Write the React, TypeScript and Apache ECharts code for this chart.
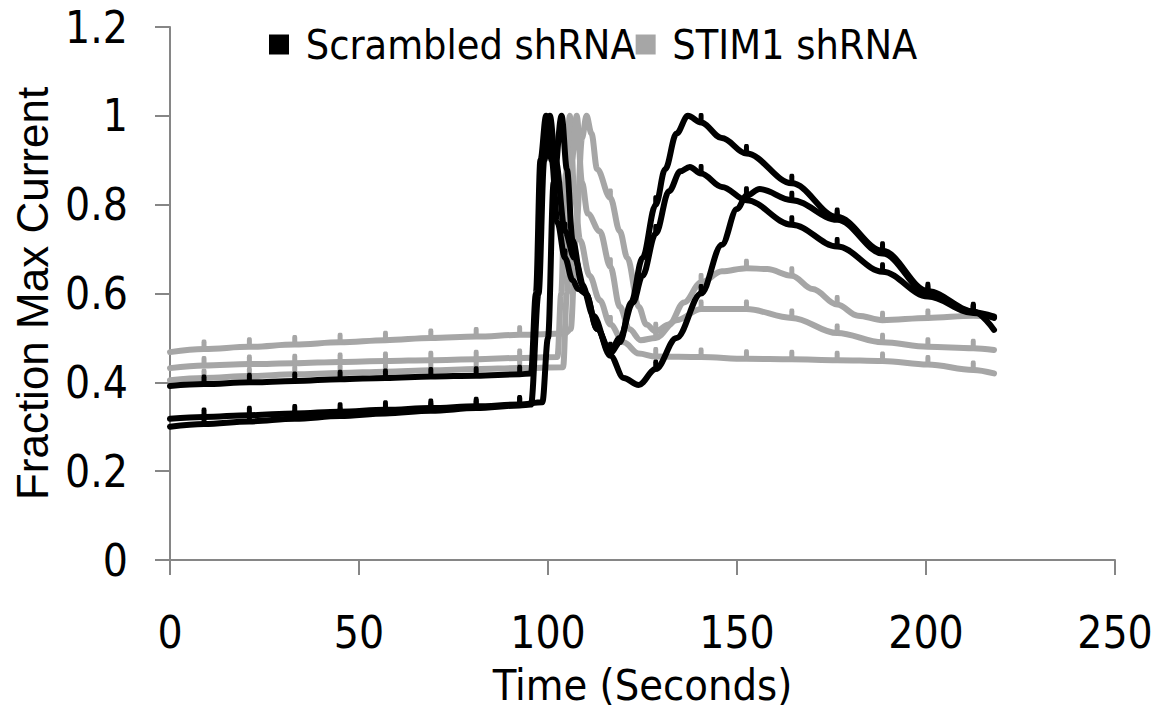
import React, { useEffect, useRef } from "react";
import * as echarts from "echarts";

// Time (s) at which the little Excel markers sit on every trace
const MARKER_TIMES = [9, 21, 33, 45, 57, 69, 81, 92.5, 104.5, 116.5, 128.5, 140.5, 152.5, 164.5, 176.5, 188.5, 200.5, 212.5];

const SCRAMBLED = "Scrambled shRNA";
const STIM1 = "STIM1 shRNA";

// Scrambled shRNA traces: [time, fraction]
const scrambled1: [number, number][] = [
  [0, 0.392], [9, 0.396], [21, 0.4], [33, 0.403], [45, 0.407], [57, 0.41], [69, 0.413], [81, 0.415], [92.5, 0.418],
  [95.5, 0.42], [96.8, 0.6], [98, 0.9], [99.5, 1.0], [101, 0.9], [102.5, 0.76], [104.5, 0.68], [106.5, 0.63], [108, 0.61],
  [110, 0.6], [113, 0.52], [116.5, 0.465], [119, 0.49], [122, 0.58], [125, 0.68], [128.5, 0.8], [131, 0.88], [134, 0.96],
  [137, 1.0], [140.5, 0.985], [146, 0.95], [152.5, 0.915], [164.5, 0.848], [176.5, 0.772], [188.5, 0.696], [200.5, 0.605],
  [212.5, 0.56], [218, 0.518],
];
const scrambled2: [number, number][] = [
  [0, 0.318], [9, 0.322], [21, 0.326], [33, 0.33], [45, 0.334], [57, 0.338], [69, 0.342], [81, 0.346], [92.5, 0.35],
  [98.5, 0.355], [100, 0.5], [101.5, 0.85], [103.6, 1.0], [105, 0.88], [106.5, 0.72], [109, 0.62], [112, 0.55], [116.5, 0.46],
  [120, 0.41], [124, 0.394], [128.5, 0.43], [134, 0.5], [140.5, 0.6], [146, 0.71], [150, 0.79], [152.5, 0.82], [156, 0.835],
  [164.5, 0.81], [176.5, 0.766], [188.5, 0.69], [200.5, 0.6], [212.5, 0.558], [218, 0.548],
];
const scrambled3: [number, number][] = [
  [0, 0.3], [9, 0.306], [21, 0.312], [33, 0.318], [45, 0.324], [57, 0.33], [69, 0.336], [81, 0.342], [92.5, 0.348],
  [95.5, 0.35], [97.5, 0.6], [99, 0.9], [100.5, 1.0], [102, 0.9], [104.5, 0.74], [107, 0.68], [110, 0.6], [113, 0.52],
  [116.5, 0.47], [119, 0.5], [122.5, 0.58], [125, 0.64], [128.5, 0.735], [132, 0.83], [135, 0.875], [137.5, 0.885],
  [140.5, 0.87], [146, 0.84], [152.5, 0.81], [164.5, 0.755], [176.5, 0.706], [188.5, 0.649], [200.5, 0.593], [212.5, 0.556],
  [218, 0.545],
];

// STIM1 shRNA traces: [time, fraction]
const stim1a: [number, number][] = [
  [0, 0.468], [9, 0.475], [21, 0.48], [33, 0.485], [45, 0.49], [57, 0.495], [69, 0.5], [81, 0.503], [92.5, 0.507],
  [104.5, 0.51], [106, 0.52], [107.5, 0.75], [109, 0.95], [110.2, 1.0], [111.5, 0.96], [113, 0.88], [116.5, 0.815],
  [119, 0.74], [121, 0.68], [124, 0.57], [126, 0.53], [128.5, 0.515], [132, 0.53], [136, 0.58], [140.5, 0.625], [146, 0.65],
  [152.5, 0.657], [158, 0.655], [164.5, 0.64], [170, 0.61], [176.5, 0.575], [182, 0.55], [188.5, 0.54], [200.5, 0.545],
  [212.5, 0.55], [218, 0.548],
];
const stim1b: [number, number][] = [
  [0, 0.432], [9, 0.438], [21, 0.441], [33, 0.443], [45, 0.446], [57, 0.448], [69, 0.45], [81, 0.452], [92.5, 0.455],
  [102.5, 0.457], [103.5, 0.6], [104.5, 0.85], [105.8, 1.0], [107, 0.82], [108.5, 0.72], [111, 0.64], [113.7, 0.585],
  [116.5, 0.53], [120, 0.49], [124, 0.465], [128.5, 0.458], [140.5, 0.457], [152.5, 0.453], [164.5, 0.452], [176.5, 0.45],
  [188.5, 0.448], [200.5, 0.44], [212.5, 0.428], [218, 0.42],
];
const stim1c: [number, number][] = [
  [0, 0.405], [9, 0.41], [21, 0.414], [33, 0.418], [45, 0.421], [57, 0.424], [69, 0.427], [81, 0.43], [92.5, 0.432],
  [104, 0.434], [105, 0.6], [106.3, 0.9], [107.6, 1.0], [109, 0.85], [110.5, 0.78], [113.7, 0.74], [116.5, 0.66], [119, 0.57],
  [121.5, 0.52], [124.5, 0.495], [128.5, 0.5], [134, 0.54], [140.5, 0.565], [152.5, 0.565], [164.5, 0.545], [176.5, 0.511],
  [188.5, 0.49], [200.5, 0.48], [212.5, 0.477], [218, 0.473],
];

const X_TICKS = [0, 50, 100, 150, 200, 250];
const Y_TICKS = [0, 0.2, 0.4, 0.6, 0.8, 1, 1.2];

const BLACK = "#000000";
const GRAY = "#a6a6a6";
const AXIS = "#868686";
const TICK_FONT = "'Liberation Sans Narrow', 'DejaVu Sans Condensed', 'Open Sans', sans-serif";
const TITLE_FONT = "'Liberation Sans', Arial, sans-serif";

function makeSeries(name: string, color: string, pts: [number, number][]) {
  return {
    type: "line",
    name,
    smooth: 0.35,
    smoothMonotone: "x",
    showSymbol: true,
    showAllSymbol: true,
    symbol: "roundRect",
    symbolSize: (v: number[]) => (MARKER_TIMES.includes(v[0]) ? [5, 11] : 0),
    symbolOffset: [0, -4],
    lineStyle: { color, width: 6, cap: "round", join: "round" },
    itemStyle: { color },
    emphasis: { disabled: true },
    z: color === BLACK ? 3 : 2,
    data: pts.map((p) => [p[0], p[1]]),
  };
}

export default function App() {
  const ref = useRef<HTMLDivElement>(null);
  useEffect(() => {
    if (!ref.current) return;
    const chart = echarts.init(ref.current, null, { renderer: "svg" });
    chart.setOption({
      animation: false,
      backgroundColor: "#ffffff",
      grid: { left: 170, right: 46, top: 27, bottom: 153, containLabel: false },
      legend: {
        left: 264,
        top: 19,
        itemGap: 0,
        itemWidth: 20,
        itemHeight: 20,
        icon: "rect",
        data: [SCRAMBLED, STIM1],
        formatter: (n: string) => " " + n,
        textStyle: { fontFamily: TICK_FONT, fontSize: 41, color: "#000" },
      },
      xAxis: {
        type: "value",
        min: 0,
        max: 250,
        interval: 50,
        name: "Time (Seconds)",
        nameLocation: "middle",
        nameGap: 103,
        nameTextStyle: { fontFamily: TICK_FONT, fontSize: 43, color: "#000" },
        axisLine: { show: true, lineStyle: { color: AXIS, width: 2 } },
        axisTick: { show: true, inside: false, length: 15, lineStyle: { color: AXIS, width: 2 } },
        axisLabel: {
          margin: 50,
          fontFamily: TICK_FONT,
          fontSize: 44,
          color: "#000",
          formatter: (v: number) => (X_TICKS.includes(v) ? String(v) : ""),
        },
        splitLine: { show: false },
      },
      yAxis: {
        type: "value",
        min: 0,
        max: 1.2,
        interval: 0.2,
        name: "Fraction Max Current",
        nameLocation: "middle",
        nameGap: 115,
        nameRotate: 90,
        nameTextStyle: { fontFamily: TITLE_FONT, fontSize: 44, color: "#000" },
        axisLine: { show: true, lineStyle: { color: AXIS, width: 2 } },
        axisTick: { show: true, inside: false, length: 15, lineStyle: { color: AXIS, width: 2 } },
        axisLabel: {
          margin: 42,
          fontFamily: TICK_FONT,
          fontSize: 44,
          color: "#000",
          formatter: (v: number) => {
            const t = Y_TICKS.find((y) => Math.abs(y - v) < 1e-6);
            return t === undefined ? "" : String(Number(t.toFixed(1)));
          },
        },
        splitLine: { show: false },
      },
      series: [
        makeSeries(STIM1, GRAY, stim1a),
        makeSeries(STIM1, GRAY, stim1b),
        makeSeries(STIM1, GRAY, stim1c),
        makeSeries(SCRAMBLED, BLACK, scrambled1),
        makeSeries(SCRAMBLED, BLACK, scrambled2),
        makeSeries(SCRAMBLED, BLACK, scrambled3),
      ],
    });
    return () => chart.dispose();
  }, []);
  return <div ref={ref} style={{ width: 1161, height: 713, margin: -8 }} />;
}
